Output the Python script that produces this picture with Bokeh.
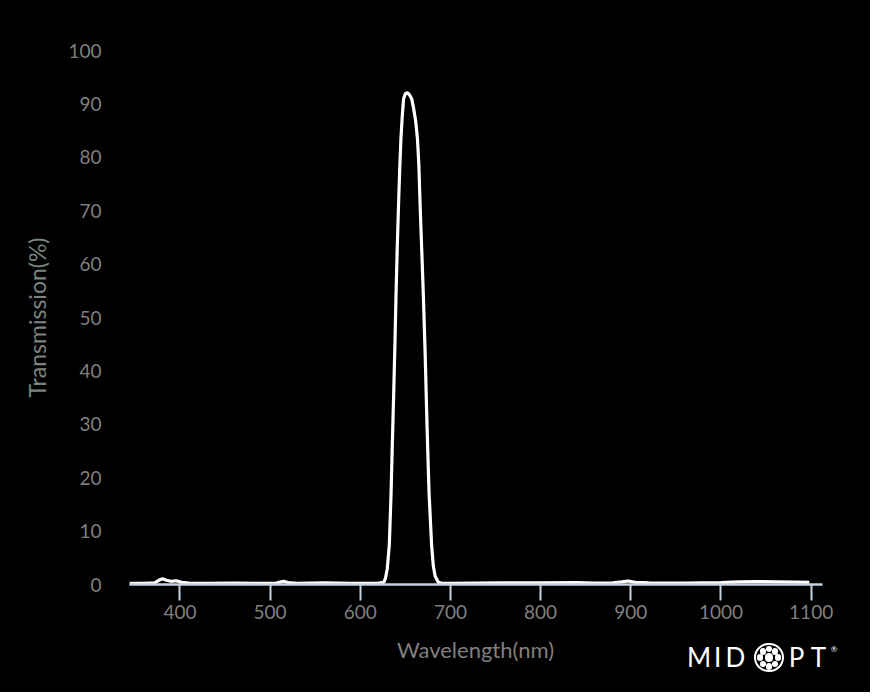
import math
from bokeh.plotting import figure
from bokeh.layouts import column
from bokeh.models import FixedTicker, Range1d, Div
from bokeh.embed import file_html
from bokeh.resources import INLINE

wavelength = [344, 360, 372, 378, 381, 385, 390, 396, 402, 410, 430, 460, 490,
              505, 510, 515, 520, 530, 560, 590, 610, 620, 626, 628, 630, 632.2,
              634.1, 635.5, 637, 638.3, 639.6, 641, 642.5, 643.8, 645.1, 646.5,
              648, 650, 651.5, 653, 655, 657.1, 659, 661.3, 663.4, 665, 666.3,
              668.2, 670, 672, 674, 676.2, 679.1, 681, 683, 686.5, 690, 700, 730,
              760, 800, 840, 860, 880, 890, 897, 905, 920, 960, 1000, 1020, 1040,
              1060, 1080, 1098]
transmission = [0.2, 0.2, 0.3, 0.9, 1.1, 0.8, 0.6, 0.7, 0.4, 0.25, 0.2, 0.25, 0.2,
                0.2, 0.4, 0.6, 0.35, 0.2, 0.3, 0.2, 0.2, 0.25, 0.4, 1.2, 3, 7.4,
                16.7, 26, 35.3, 44, 53.8, 63, 71.4, 78, 83.5, 87.5,
                90.9, 91.9, 92.1, 92, 91.6, 90.9, 89.3, 87, 83.5, 78.5, 71.4,
                62.5, 54, 43, 30, 17.5, 7.4, 3.5, 1.6, 0.4, 0.25, 0.2, 0.25,
                0.3, 0.3, 0.35, 0.25, 0.3, 0.5, 0.65, 0.4, 0.3, 0.25, 0.35, 0.5, 0.55,
                0.5, 0.45, 0.4]
x_ticks = [400, 500, 600, 700, 800, 900, 1000, 1100]
y_ticks = [0, 10, 20, 30, 40, 50, 60, 70, 80, 90, 100]
x_title = "Wavelength(nm)"
y_title = "Transmission(%)"

W = 870
H_MAIN = 632
H_FOOT = 60
FONT = "Lato"
BG = {"background-color": "#000000"}

p = figure(width=W, height=H_MAIN, output_backend="svg", toolbar_location=None,
           x_range=Range1d(344.1, 1112.6), y_range=Range1d(0, 100),
           min_border_left=129, min_border_right=48, min_border_top=50,
           min_border_bottom=48, outline_line_color=None)
p.styles = BG
p.background_fill_color = "black"
p.border_fill_color = "black"
p.xgrid.visible = False
p.ygrid.visible = False

p.line(wavelength, transmission, line_color="white", line_width=3.2)

xa = p.xaxis[0]
xa.ticker = FixedTicker(ticks=x_ticks)
xa.axis_line_color = "#c5d2e0"
xa.axis_line_width = 2.5
xa.major_tick_line_color = "#c5d2e0"
xa.major_tick_line_width = 2
xa.major_tick_out = 16
xa.major_tick_in = 0
xa.minor_tick_line_color = None
xa.major_label_text_color = "#7f7f7f"
xa.major_label_text_font = FONT
xa.major_label_text_font_size = "19px"
xa.major_label_standoff = 4

ya = p.yaxis[0]
ya.ticker = FixedTicker(ticks=y_ticks)
ya.axis_line_color = None
ya.major_tick_line_color = None
ya.minor_tick_line_color = None
ya.major_tick_out = 0
ya.major_tick_in = 0
ya.major_label_text_color = "#7f7f7f"
ya.major_label_text_font = FONT
ya.major_label_text_font_size = "19px"
ya.major_label_standoff = 28
ya.axis_label = y_title
ya.axis_label_text_color = "#788580"
ya.axis_label_text_font = FONT
ya.axis_label_text_font_size = "23px"
ya.axis_label_text_font_style = "normal"
ya.axis_label_standoff = 14

# Footer: x-axis title and MIDOPT logo (pixel positions within the footer strip)
def span(txt, x, y, size, color, extra=""):
    return (f'<span style="position:absolute;left:{x}px;top:{y}px;'
            f'transform:translate(-50%,-50%);font-family:{FONT},sans-serif;'
            f'font-size:{size}px;line-height:1;color:{color};white-space:nowrap;{extra}">'
            f'{txt}</span>')

def dot(x, y, d):
    return (f'<div style="position:absolute;left:{x - d / 2:.1f}px;top:{y - d / 2:.1f}px;'
            f'width:{d}px;height:{d}px;border-radius:50%;background:#ffffff;"></div>')

parts = [span(x_title, (129 + 822) / 2, 17.5, 22, "#7f7f7f")]
logo_letters = ["M", "I", "D", "P", "T"]
logo_x = [699, 717.7, 735.5, 796.5, 818.5]
for ch, lx in zip(logo_letters, logo_x):
    parts.append(span(ch, lx, 25.4, 26, "#ffffff"))
parts.append(span("®", 834, 16.5, 8, "#ffffff"))
cx, cy, R = 769, 25.6, 14.6
parts.append(f'<div style="position:absolute;left:{cx - R:.1f}px;top:{cy - R:.1f}px;'
             f'width:{2 * R:.1f}px;height:{2 * R:.1f}px;box-sizing:border-box;'
             f'border:2.2px solid #ffffff;border-radius:50%;"></div>')
for k in range(8):
    a = k * math.pi / 4
    parts.append(dot(cx + 8.8 * math.cos(a), cy + 8.8 * math.sin(a), 6.6))
parts.append(dot(cx, cy, 8.5))

footer_html = (f'<div style="position:relative;width:{W}px;height:{H_FOOT}px;'
               f'background:#000000;overflow:hidden;">' + "".join(parts) + '</div>')
footer = Div(text=footer_html, width=W, height=H_FOOT, margin=0, styles=BG)

layout = column(p, footer, spacing=0)
layout.styles = BG
html = file_html(layout, INLINE)
html = html.replace("<body>", '<body style="background:#000000;">', 1)
open("out.html", "w").write(html)
